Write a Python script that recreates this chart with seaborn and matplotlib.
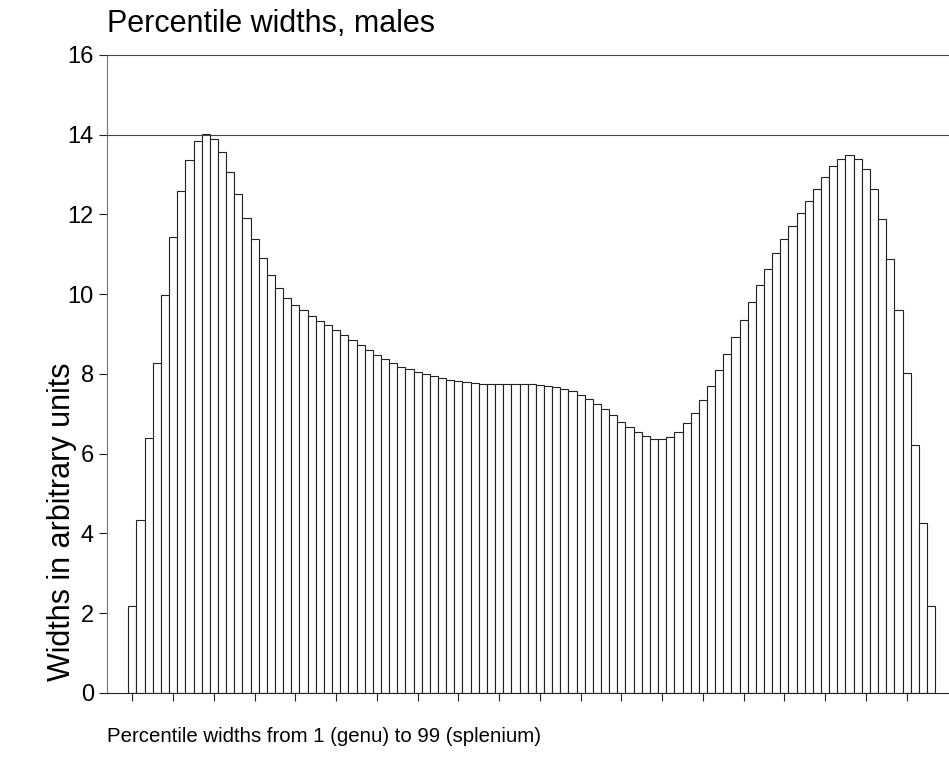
import pandas as pd
import matplotlib.pyplot as plt
import seaborn as sns

# percentile index 1..99 (genu -> splenium)
percentiles = list(range(1, 100))

# widths
widths = [
    2.18, 4.35, 6.39, 8.28, 9.98, 11.44, 12.59, 13.36, 13.83, 14.01,
    13.89, 13.56, 13.07, 12.51, 11.92, 11.38, 10.90, 10.48, 10.15, 9.91,
    9.74, 9.60, 9.46, 9.34, 9.23, 9.10, 8.98, 8.85, 8.73, 8.59,
    8.48, 8.37, 8.28, 8.18, 8.12, 8.06, 8.00, 7.94, 7.89, 7.86,
    7.83, 7.81, 7.78, 7.76, 7.75, 7.74, 7.74, 7.74, 7.74, 7.74,
    7.73, 7.71, 7.67, 7.62, 7.57, 7.48, 7.38, 7.24, 7.11, 6.96,
    6.80, 6.66, 6.54, 6.44, 6.37, 6.36, 6.42, 6.55, 6.76, 7.03,
    7.35, 7.71, 8.10, 8.49, 8.92, 9.35, 9.80, 10.23, 10.64, 11.03,
    11.39, 11.71, 12.03, 12.34, 12.63, 12.93, 13.21, 13.40, 13.48, 13.39,
    13.13, 12.63, 11.89, 10.88, 9.60, 8.02, 6.21, 4.27, 2.17,
]

y_ticks = [0, 2, 4, 6, 8, 10, 12, 14, 16]
ref_lines = [14, 16]

df = pd.DataFrame({"Percentile": percentiles, "Width": widths})

sns.set_style("ticks")
plt.rcParams["font.family"] = ["Liberation Sans", "DejaVu Sans"]
plt.rcParams["text.color"] = "black"
plt.rcParams["xtick.color"] = "black"
plt.rcParams["ytick.color"] = "black"

fig = plt.figure(figsize=(9.49, 7.62), dpi=100)
ax = fig.add_axes([0.1128, 0.0906, 0.8872, 0.8373])

sns.barplot(
    data=df,
    x="Percentile",
    y="Width",
    color="white",
    saturation=1,
    edgecolor="#222222",
    linewidth=0.8,
    width=1.0,
    errorbar=None,
    ax=ax,
)

# horizontal reference lines at 14 and 16
for v in ref_lines:
    ax.axhline(v, color="#444444", lw=0.8, clip_on=False, zorder=3)

ax.set_ylim(0, 16)
ax.set_xlim(-3.11, 100.2)
ax.set_yticks(y_ticks)
ax.set_yticklabels([str(t) for t in y_ticks], fontsize=17, color="black")
ax.set_xticks(range(0, 99, 5))
ax.set_xticklabels([])
ax.tick_params(axis="both", direction="out", length=5.5, width=0.8, color="#222222", pad=4)
ax.set_xlabel("")
ax.set_ylabel("")

sns.despine(ax=ax, top=True, right=True)
ax.spines["left"].set_color("#777777")
ax.spines["left"].set_linewidth(0.8)
ax.spines["bottom"].set_color("#222222")
ax.spines["bottom"].set_linewidth(0.8)

fig.text(107 / 949, 1 - 32 / 762, "Percentile widths, males", fontsize=22,
         ha="left", va="baseline", color="black")
fig.text(107 / 949, 1 - 742 / 762, "Percentile widths from 1 (genu) to 99 (splenium)",
         fontsize=14.7, ha="left", va="baseline", color="black")
fig.text(62 / 949, 1 - 522 / 762, "Widths in arbitrary units", fontsize=22,
         rotation=90, ha="center", va="center", color="black")

fig.savefig("out.png", dpi=100)
print("saved")
